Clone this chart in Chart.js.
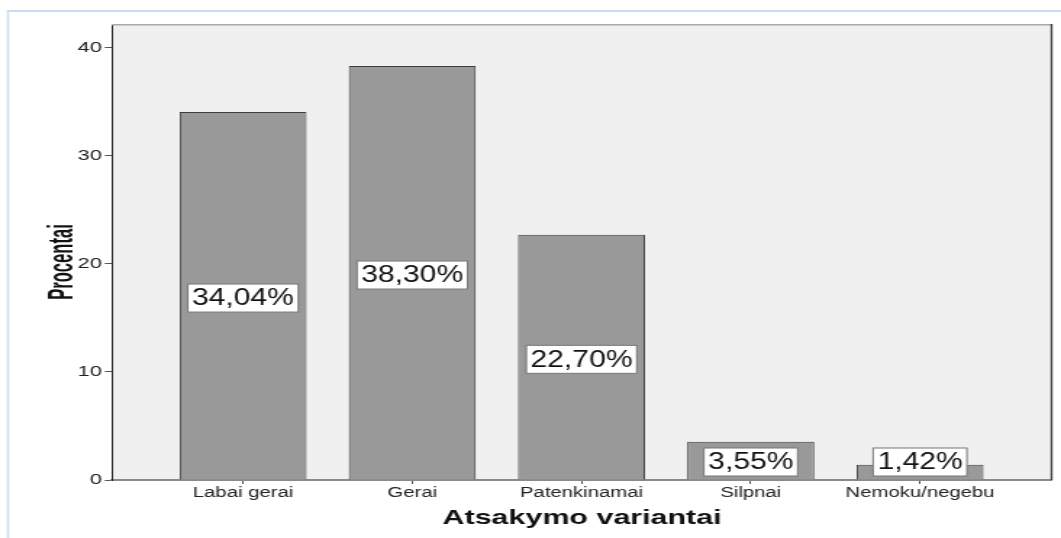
<!DOCTYPE html>
<html>
<head>
<meta charset="utf-8">
<script src="https://cdn.jsdelivr.net/npm/chart.js@4"></script>
<style>
  body { margin: 0; background: #fff; }
  canvas { display: block; }
</style>
</head>
<body>
<!-- the reference is a horizontally stretched picture, so the canvas is drawn narrow and stretched by css -->
<canvas id="chart" width="732" height="538" style="width:1061px;height:538px"></canvas>
<script>
const categories = ['Labai gerai', 'Gerai', 'Patenkinamai', 'Silpnai', 'Nemoku/negebu'];
const percents = [34.04, 38.30, 22.70, 3.55, 1.42];
const percentLabels = ['34,04%', '38,30%', '22,70%', '3,55%', '1,42%'];
const yTicks = [0, 10, 20, 30, 40];

const FONT = "'Liberation Sans', Arial, sans-serif";

const backdrop = {
  id: 'backdrop',
  beforeDraw(chart) {
    const { ctx, chartArea: a, width, height } = chart;
    ctx.save();
    ctx.fillStyle = '#fff';
    ctx.fillRect(0, 0, width, height);
    // light blue frame round the picture
    ctx.fillStyle = '#c9dcf2';
    ctx.fillRect(4.8, 10, width, 2);
    ctx.fillRect(4.8, 10, 1.4, height);
    // plot background
    ctx.fillStyle = '#f0f0f0';
    ctx.fillRect(a.left, a.top, a.right - a.left, a.bottom - a.top);
    ctx.restore();
  },
  afterDraw(chart) {
    const { ctx, chartArea: a } = chart;
    ctx.save();
    ctx.fillStyle = '#a8a8a8';
    ctx.fillRect(a.left, a.top - 1, a.right - a.left, 1.5);
    ctx.fillStyle = '#444';
    ctx.fillRect(a.right - 1, a.top - 1, 1.4, a.bottom - a.top + 1);

    ctx.fillStyle = '#111';
    ctx.textAlign = 'center';
    ctx.textBaseline = 'middle';
    ctx.font = 'bold 21px ' + FONT;
    ctx.fillText('Atsakymo variantai', (a.left + a.right) / 2, 518);

    // y title: thick but short, like the original
    ctx.translate(43.5, 262);
    ctx.rotate(-Math.PI / 2);
    ctx.scale(0.72, 1);
    ctx.font = 'bold 23px ' + FONT;
    ctx.fillText('Procentai', 0, 0);
    ctx.restore();
  }
};

const valueBoxes = {
  id: 'valueBoxes',
  afterDatasetsDraw(chart) {
    const { ctx, chartArea: a } = chart;
    const y = chart.scales.y;
    const bars = chart.getDatasetMeta(0).data;
    const sx = 0.9;
    ctx.save();
    ctx.font = '23px ' + FONT;
    ctx.textAlign = 'center';
    ctx.textBaseline = 'middle';
    bars.forEach((bar, i) => {
      const txt = percentLabels[i];
      const w = ctx.measureText(txt).width * sx + 6;
      const h = 28;
      const cy = Math.min(y.getPixelForValue(percents[i] / 2) + 2, a.bottom - 18);
      ctx.fillStyle = '#fff';
      ctx.fillRect(bar.x - w / 2, cy - h / 2, w, h);
      ctx.strokeStyle = '#777';
      ctx.lineWidth = 1;
      ctx.strokeRect(bar.x - w / 2, cy - h / 2, w, h);
      ctx.save();
      ctx.translate(bar.x, cy + 1);
      ctx.scale(sx, 1);
      ctx.fillStyle = '#111';
      ctx.fillText(txt, 0, 0);
      ctx.restore();
    });
    ctx.restore();
  }
};

new Chart(document.getElementById('chart'), {
  type: 'bar',
  data: {
    datasets: [{
      data: percents.map((v, i) => ({ x: i, y: v })),
      backgroundColor: '#999999',
      borderColor: '#3c3c3c',
      borderWidth: 1,
      barPercentage: 0.75,
      categoryPercentage: 1
    }]
  },
  options: {
    responsive: false,
    animation: false,
    devicePixelRatio: 1,
    layout: { padding: { top: 25, right: 6.2, left: 0, bottom: 0 } },
    plugins: {
      legend: { display: false },
      tooltip: { enabled: false }
    },
    scales: {
      x: {
        type: 'linear',
        min: -0.774,
        max: 4.78,
        offset: false,
        afterBuildTicks: s => { s.ticks = categories.map((c, i) => ({ value: i })); },
        afterFit: s => { s.height = 58; },
        grid: { drawOnChartArea: false, offset: false, tickLength: 4, color: '#555' },
        border: { color: '#8a8a8a', width: 2 },
        ticks: {
          callback: v => categories[v],
          color: '#222',
          padding: 1,
          maxRotation: 0,
          font: { family: FONT, size: 14 }
        }
      },
      y: {
        min: 0,
        max: 42.1,
        afterBuildTicks: s => { s.ticks = yTicks.map(v => ({ value: v })); },
        afterFit: s => { s.width = 77.3; },
        grid: { drawOnChartArea: false, tickLength: 5, color: '#555' },
        border: { color: '#222', width: 1 },
        ticks: {
          color: '#222',
          padding: 2,
          font: { family: FONT, size: 15 }
        }
      }
    }
  },
  plugins: [backdrop, valueBoxes]
});
</script>
</body>
</html>
